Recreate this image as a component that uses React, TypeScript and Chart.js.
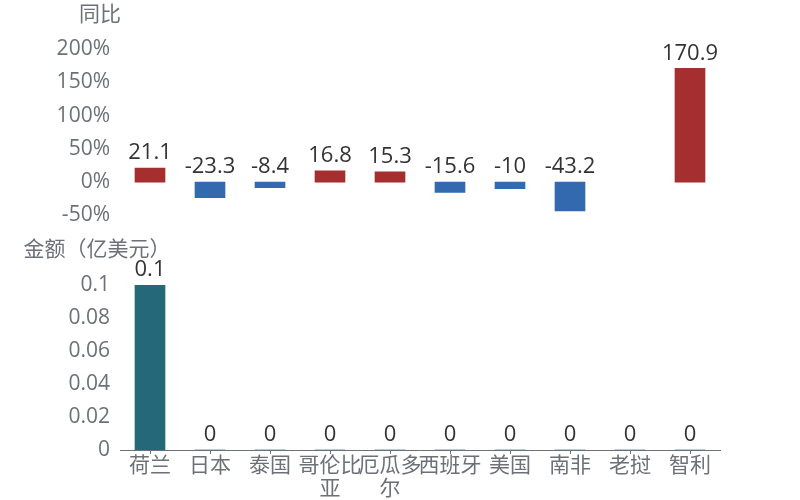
import React, { useEffect, useRef } from "react";
import { Chart, registerables } from "chart.js";

Chart.register(...registerables);

const categories = ["荷兰", "日本", "泰国", "哥伦比亚", "厄瓜多尔", "西班牙", "美国", "南非", "老挝", "智利"];
const yoyValues: (number | null)[] = [21.1, -23.3, -8.4, 16.8, 15.3, -15.6, -10, -43.2, null, 170.9];
const amountValues: number[] = [0.1, 0, 0, 0, 0, 0, 0, 0, 0, 0];
const yoyMin = -50;
const yoyMax = 200;
const yoyStep = 50;
const amountMin = 0;
const amountMax = 0.1;
const amountStep = 0.02;
const yoyTitle = "同比";
const amountTitle = "金额（亿美元）";

const FONT = '"Open Sans", "Noto Sans CJK SC", sans-serif';
const AXIS_COLOR = "#6E7079";
const LABEL_COLOR = "#333333";
const RED = "#A52E2E";
const BLUE = "#336AAF";
const TEAL = "#256877";

const valueLabelPlugin = {
  id: "valueLabels",
  afterDatasetsDraw(chart: any) {
    const ctx = chart.ctx;
    ctx.save();
    ctx.font = `22px ${FONT}`;
    ctx.fillStyle = LABEL_COLOR;
    ctx.textAlign = "center";
    ctx.textBaseline = "bottom";
    chart.data.datasets.forEach((ds: any, di: number) => {
      const meta = chart.getDatasetMeta(di);
      meta.data.forEach((el: any, i: number) => {
        const v = ds.data[i];
        if (v === null || v === undefined) return;
        const top = Math.min(el.y, el.base);
        ctx.fillText(String(v), el.x, top - 4);
      });
    });
    ctx.restore();
  },
};

function makeTitlePlugin(text: string, cx: number, cy: number) {
  return {
    id: "panelTitle",
    afterDraw(chart: any) {
      const ctx = chart.ctx;
      ctx.save();
      ctx.font = `21px ${FONT}`;
      ctx.fillStyle = AXIS_COLOR;
      ctx.textAlign = "center";
      ctx.textBaseline = "middle";
      ctx.fillText(text, cx, cy);
      ctx.restore();
    },
  };
}

function splitLabel(s: string): string | string[] {
  if (s.length > 3) return [s.slice(0, 3), s.slice(3)];
  return s;
}

export default function App() {
  const topRef = useRef<HTMLCanvasElement>(null);
  const bottomRef = useRef<HTMLCanvasElement>(null);

  useEffect(() => {
    const topChart = new Chart(topRef.current as HTMLCanvasElement, {
      type: "bar",
      data: {
        labels: categories,
        datasets: [
          {
            data: yoyValues as any,
            backgroundColor: yoyValues.map((v) => ((v ?? 0) >= 0 ? RED : BLUE)),
            barThickness: 30,
          },
        ],
      },
      options: {
        responsive: false,
        animation: false,
        layout: { padding: { top: 49, bottom: 7, left: 0, right: 80 } },
        plugins: { legend: { display: false }, tooltip: { enabled: false } },
        scales: {
          x: { display: false },
          y: {
            min: yoyMin,
            max: yoyMax,
            ticks: {
              stepSize: yoyStep,
              padding: 10,
              color: AXIS_COLOR,
              font: { size: 21, family: FONT },
              callback: (v: any) => `${v}%`,
            },
            grid: { display: false, drawTicks: false },
            border: { display: false },
            afterFit: (scale: any) => {
              scale.width = 120;
            },
          },
        },
      },
      plugins: [valueLabelPlugin, makeTitlePlugin(yoyTitle, 100, 15)],
    });

    const bottomChart = new Chart(bottomRef.current as HTMLCanvasElement, {
      type: "bar",
      data: {
        labels: categories.map(splitLabel) as any,
        datasets: [
          {
            data: amountValues,
            backgroundColor: TEAL,
            barThickness: 30,
          },
        ],
      },
      options: {
        responsive: false,
        animation: false,
        layout: { padding: { top: 55, bottom: 0, left: 0, right: 80 } },
        plugins: { legend: { display: false }, tooltip: { enabled: false } },
        scales: {
          x: {
            ticks: {
              color: AXIS_COLOR,
              font: { size: 21, family: FONT, lineHeight: 1.1 },
              padding: 0,
              maxRotation: 0,
              autoSkip: false,
            },
            grid: {
              display: true,
              drawOnChartArea: false,
              drawTicks: true,
              tickLength: 4,
              offset: false,
              color: AXIS_COLOR,
            },
            border: { display: true, color: AXIS_COLOR },
            afterFit: (scale: any) => {
              scale.height = 50;
            },
          },
          y: {
            min: amountMin,
            max: amountMax,
            ticks: {
              stepSize: amountStep,
              padding: 10,
              color: AXIS_COLOR,
              font: { size: 21, family: FONT },
              callback: (v: any) => String(Number(Number(v).toFixed(2))),
            },
            grid: { display: false, drawTicks: false },
            border: { display: false },
            afterFit: (scale: any) => {
              scale.width = 120;
            },
          },
        },
      },
      plugins: [valueLabelPlugin, makeTitlePlugin(amountTitle, 97, 20)],
    });

    return () => {
      topChart.destroy();
      bottomChart.destroy();
    };
  }, []);

  return (
    <div style={{ position: "absolute", left: 0, top: 0, width: 800, height: 500, background: "#fff" }}>
      <canvas ref={topRef} width={800} height={238} style={{ display: "block", position: "absolute", left: 0, top: 0 }} />
      <canvas ref={bottomRef} width={800} height={270} style={{ display: "block", position: "absolute", left: 0, top: 230 }} />
    </div>
  );
}
